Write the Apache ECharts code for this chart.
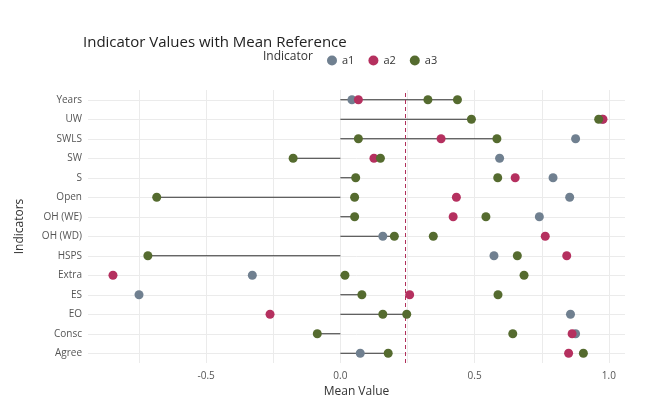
<!DOCTYPE html>
<html><head><meta charset="utf-8">
<script src="https://cdn.jsdelivr.net/npm/echarts@6/dist/echarts.min.js"></script>
<style>html,body{margin:0;padding:0;background:#fff}#c{width:656px;height:415px}</style>
</head><body><div id="c"></div>
<script>
const categories = ["Agree","Consc","EO","ES","Extra","HSPS","OH (WD)","OH (WE)","Open","S","SW","SWLS","UW","Years"];
const a1 = [0.074,0.876,0.857,-0.75,-0.328,0.572,0.158,0.741,0.854,0.792,0.593,0.876,0.975,0.043];
const a2 = [0.85,0.863,-0.262,0.258,-0.847,0.843,0.763,0.42,0.432,0.651,0.125,0.375,0.978,0.067];
const a3First = [0.178,-0.086,0.158,0.08,0.017,-0.717,0.201,0.053,-0.684,0.057,-0.176,0.067,0.488,0.436];
const a3Second = [0.905,0.642,0.247,0.587,0.684,0.659,0.346,0.542,0.053,0.586,0.149,0.583,0.962,0.326];
const segmentEnd = [0.178,-0.086,0.247,0.08,0.017,-0.717,0.201,0.053,-0.684,0.057,-0.176,0.583,0.488,0.436];
const meanValue = 0.24;
const xTicks = [-0.75,-0.5,-0.25,0,0.25,0.5,0.75,1.0];
const yTicks = categories.map((c,i)=>i);

const chart = echarts.init(document.getElementById('c'));
const pts = arr => arr.map((v,i)=>[v,i]);
const dot = (name,color,data)=>({name,type:'scatter',data:pts(data),symbolSize:9,itemStyle:{color,opacity:1},z:5});
chart.setOption({
  animation:false,
  title:{text:'Indicator Values with Mean Reference',left:78,top:30,textStyle:{fontFamily:'Open Sans',fontWeight:'normal',fontSize:15,color:'#222'}},
  legend:{top:50,left:322,itemWidth:10,itemHeight:10,itemGap:14,icon:'circle',data:['a1','a2','a3'],textStyle:{fontFamily:'Open Sans',fontSize:11,color:'#333'}},
  graphic:[{type:'text',left:263,top:51,style:{text:'Indicator',font:'12px Open Sans',fill:'#333'}}],
  grid:{left:88,right:31,top:90,bottom:52},
  xAxis:{type:'value',min:-0.94,max:1.06,name:'Mean Value',nameLocation:'middle',nameGap:17,
    nameTextStyle:{fontFamily:'Open Sans',fontSize:12,color:'#333'},
    axisLine:{show:false},axisTick:{show:false,customValues:xTicks},
    axisLabel:{customValues:xTicks,formatter:v=>(Math.abs(v*2-Math.round(v*2))<1e-9)?(v===0?'0.0':v===1?'1.0':String(v)):'',color:'#555',fontSize:10,fontFamily:'Open Sans',margin:8},
    splitLine:{lineStyle:{color:'#ebebeb'}}},
  yAxis:{type:'value',min:-0.5,max:13.5,name:'Indicators',nameLocation:'middle',nameGap:62,
    nameTextStyle:{fontFamily:'Open Sans',fontSize:12,color:'#333'},
    axisLine:{show:false},axisTick:{show:false,customValues:yTicks},
    axisLabel:{customValues:yTicks,formatter:v=>categories[Math.round(v)]||'',color:'#555',fontSize:10,fontFamily:'Open Sans',margin:6},
    splitLine:{show:true,lineStyle:{color:'#ebebeb'}}},
  series:[
    {type:'custom',name:'seg',data:segmentEnd.map((v,i)=>[v,i]),z:2,itemStyle:{color:'#b0305a'},
      renderItem:(params,api)=>{const p0=api.coord([0,api.value(1)]);const p1=api.coord([api.value(0),api.value(1)]);
        return {type:'line',shape:{x1:p0[0],y1:p0[1],x2:p1[0],y2:p1[1]},style:{stroke:'#333',lineWidth:1}};},
      markLine:{silent:true,symbol:'none',label:{show:false},lineStyle:{color:'#b0305a',type:[4,3],width:1,opacity:1},data:[{xAxis:meanValue,lineStyle:{color:'#b0305a'}}]}},
    dot('a1','#708090',a1),
    dot('a2','#b5305f',a2),
    dot('a3','#556b2f',a3First),
    dot('a3','#556b2f',a3Second)
  ]
});
</script></body></html>
